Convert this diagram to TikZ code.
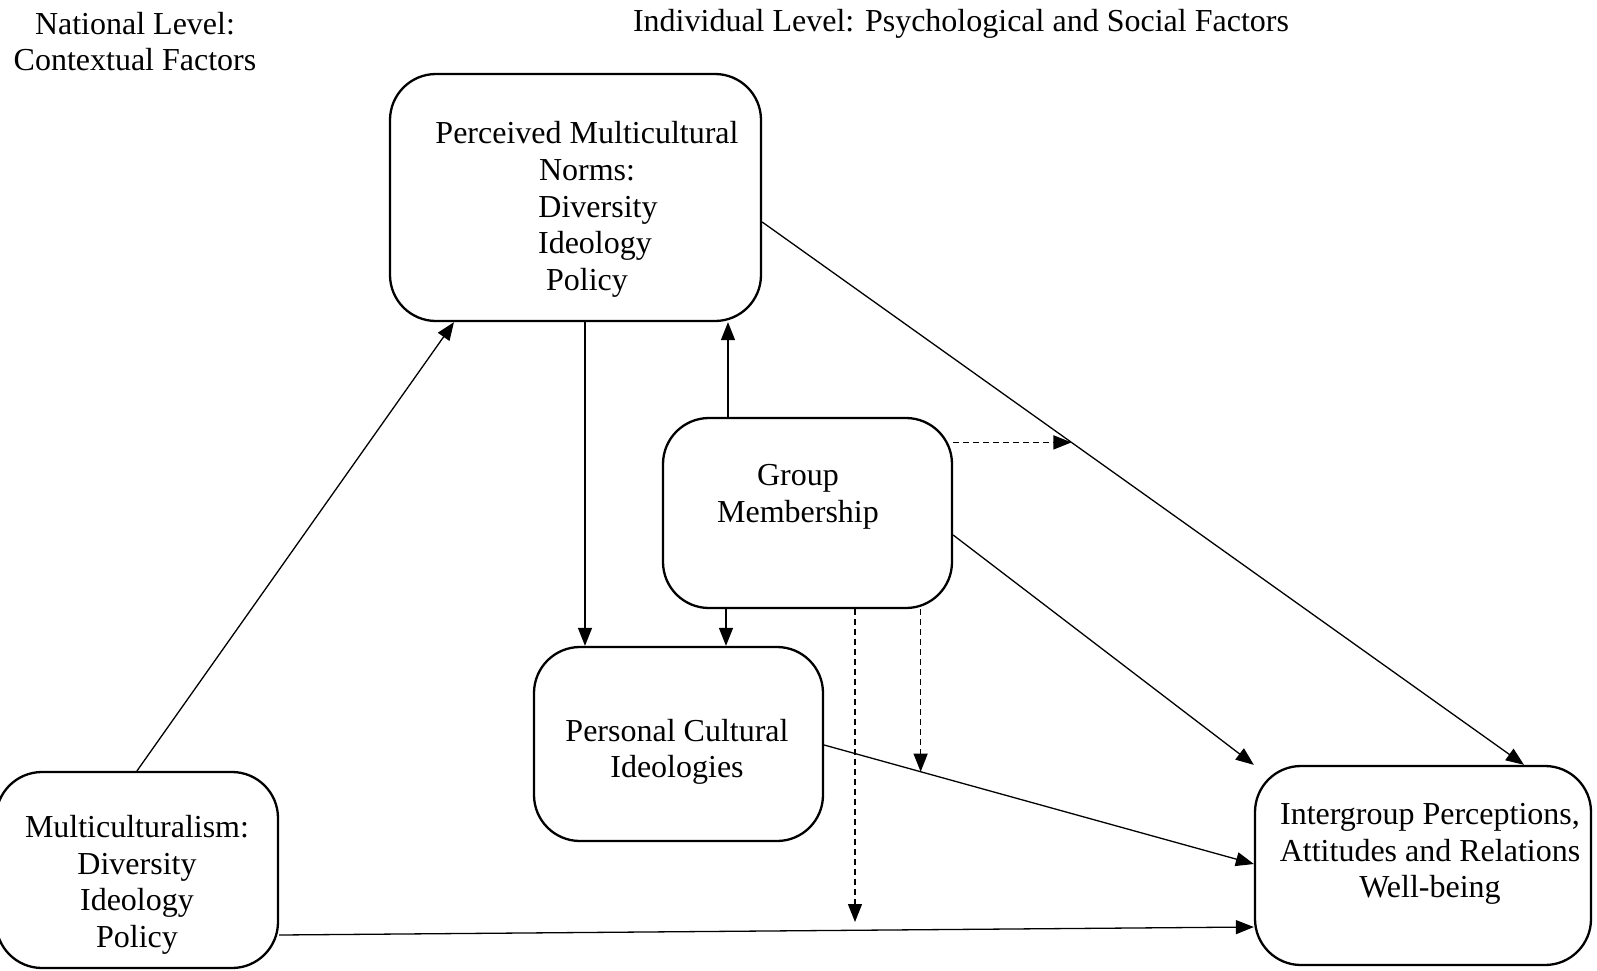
\documentclass[tikz,border=0pt]{standalone}
\usepackage{fontspec}
\setmainfont{Liberation Serif}
\usetikzlibrary{arrows.meta,calc}
\begin{document}
\begin{tikzpicture}[x=1pt,y=-1pt,
  box/.style={draw,line width=2.3pt,rounded corners=46pt,inner sep=0pt},
  lbl/.style={align=center,font=\fontsize{32}{36.6}\selectfont,inner sep=0pt},
  conn/.style={line width=1.3pt,-{Triangle[length=18pt,width=14pt]}},
  dconn/.style={conn,dash pattern=on 6pt off 4pt}]
\useasboundingbox (0,0) rectangle (1597,971);
% boxes
\node[box,minimum width=371pt,minimum height=247pt] (pmn) at (575.5,197.5) {};
\node[box,minimum width=289pt,minimum height=190pt] (grp) at (807.5,513) {};
\node[box,minimum width=289pt,minimum height=194pt] (pci) at (678.5,744) {};
\node[box,minimum width=282pt,minimum height=196pt] (mul) at (137,870) {};
\node[box,minimum width=336pt,minimum height=199pt] (igp) at (1423,865.5) {};
% texts
\node[lbl] (hnat) at (135,41.5) {National Level:\\Contextual Factors};
\node[lbl] (hind) at (961,24) {Individual Level: Psychological and Social Factors};
\node[lbl] (tpmn) at (587,209.5) {Perceived Multicultural\\Norms:\\\hspace*{22pt}Diversity\\\hspace*{16pt}Ideology\\Policy};
\node[lbl] (tgrp) at (798,497) {Group\\Membership};
\node[lbl] (tpci) at (677,752) {Personal Cultural\\Ideologies};
\node[lbl] (tmul) at (137,885) {Multiculturalism:\\Diversity\\Ideology\\Policy};
\node[lbl] (tigp) at (1430,854) {Intergroup Perceptions,\\Attitudes and Relations\\Well-being};
% helper coordinates
\coordinate (p5a) at (pmn.east |- 0,222);
\coordinate (p5b) at (igp.north -| 1524,0);
\coordinate (m1) at ($(p5a)!0.406!(p5b)$);
\coordinate (p8a) at (pci.east |- 0,745);
\coordinate (p8b) at (igp.west |- 0,864);
\coordinate (m2) at ($(p8a)!0.2245!(p8b)$);
\coordinate (free) at (855,922);
% connectors
\draw[conn] (mul.north) -- (pmn.south -| 454,0);
\draw[conn] (pmn.south -| 585,0) -- (pci.north -| 585,0);
\draw[conn] (grp.north -| 728,0) -- (pmn.south -| 728,0);
\draw[conn] (grp.south -| 726,0) -- (pci.north -| 726,0);
\draw[conn] (p5a) -- (p5b);
\draw[dconn] (grp.east |- m1) -- (m1);
\draw[conn] (grp.east |- 0,535) -- (igp.north west);
\draw[conn] (p8a) -- (p8b);
\draw[dconn] (grp.south -| m2) -- (m2);
\draw[dconn] (grp.south -| free) -- (free);
\draw[conn] (mul.east |- 0,935) -- (igp.west |- 0,927);
\end{tikzpicture}
\end{document}
